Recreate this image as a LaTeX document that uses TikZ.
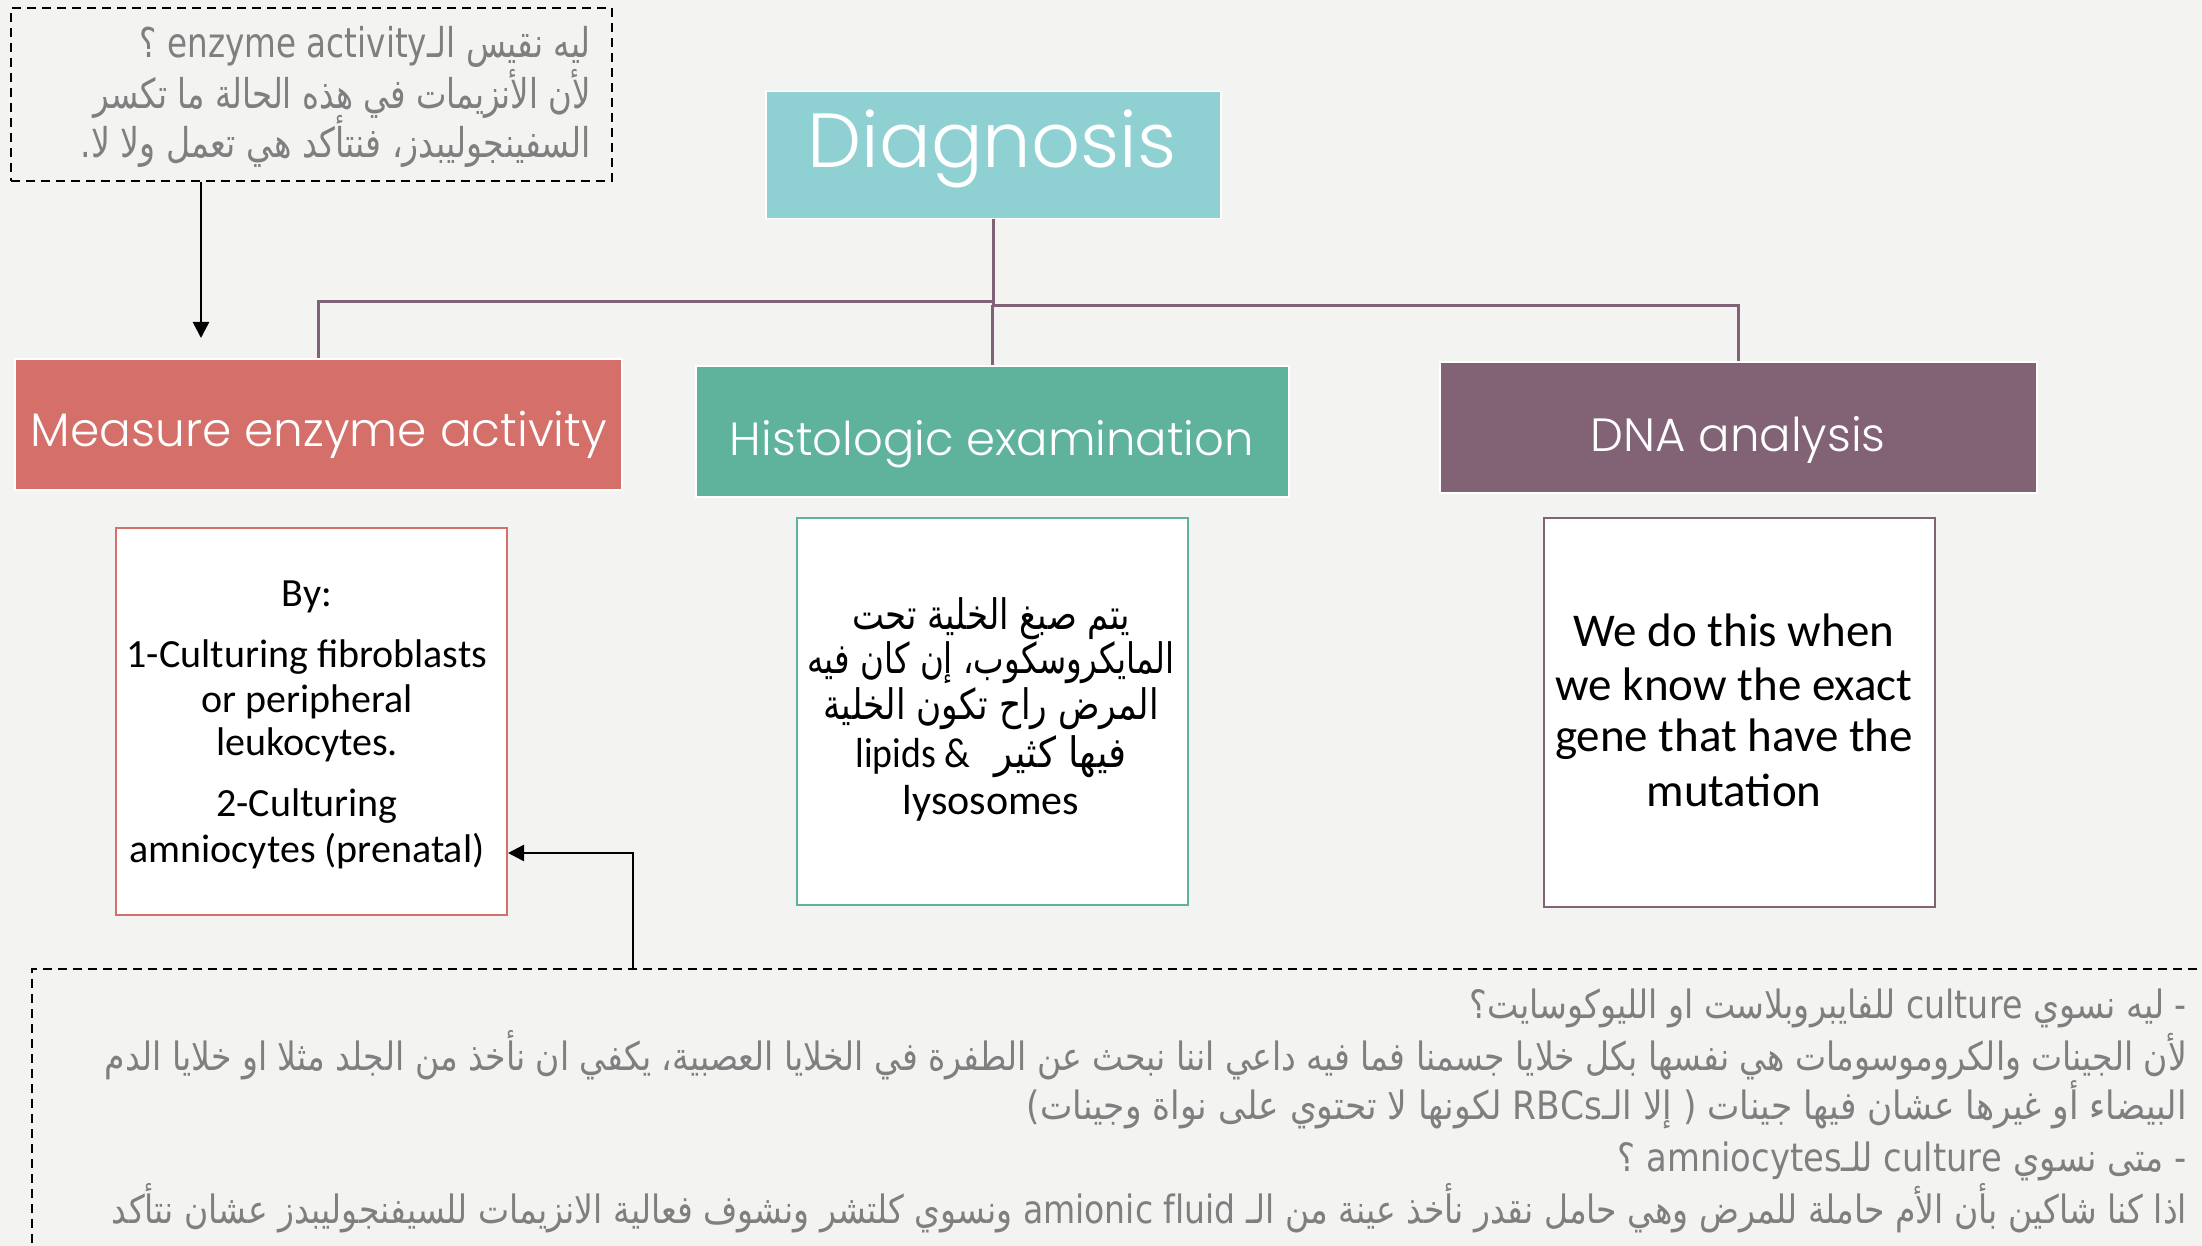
\documentclass[tikz,border=0pt]{standalone}
\usepackage{fontspec}
\usepackage{graphicx}
\usetikzlibrary{arrows.meta}
\setmainfont{Carlito}
\newfontfamily\titlefont{Poppins}[UprightFont=* Light]
\newfontfamily\arabicfont[Script=Arabic]{DejaVu Sans}
\TeXXeTstate=1
\definecolor{bgc}{HTML}{F3F3F1}
\definecolor{diagc}{HTML}{8FD0D2}
\definecolor{measc}{HTML}{D46F6A}
\definecolor{histc}{HTML}{5FB39C}
\definecolor{dnac}{HTML}{826376}
\definecolor{connc}{HTML}{7F6275}
\definecolor{txtgray}{HTML}{7F7F7F}
\newcommand{\fitw}[2]{\resizebox{#1}{\height}{#2}}
\begin{document}
\begin{tikzpicture}[x=1pt,y=-1pt,
  hbox/.style={rectangle, inner sep=0pt, draw=white, line width=1.5pt, anchor=north west},
  wbox/.style={rectangle, inner sep=0pt, fill=white, line width=2pt, anchor=north west},
  dbox/.style={rectangle, inner sep=0pt, draw=black, line width=2pt, dash pattern=on 9pt off 6pt, anchor=north west},
  htext/.style={text=white, inner sep=0pt, anchor=base},
  ltext/.style={text=black, inner sep=0pt, anchor=center},
  gtext/.style={text=txtgray, inner sep=0pt, anchor=east, font=\arabicfont\fontsize{39}{44}\selectfont},
  connline/.style={draw=connc, line width=3pt},
  arr/.style={-{Triangle[width=16pt,length=16pt]}, line width=2.5pt, draw=black}]
\useasboundingbox (0,0) rectangle (2202,1246);
\fill[bgc] (0,0) rectangle (2202,1246);

% top-left note
\node[dbox, minimum width=601pt, minimum height=173pt] (tlbox) at (10,7) {};
\node[gtext, font=\arabicfont\fontsize{41}{46}\selectfont] (tl1) at (591,47) {\fitw{451pt}{\beginR ليه نقيس الـ\beginL enzyme activity\endL{} ؟\endR}};
\node[gtext, font=\arabicfont\fontsize{41}{46}\selectfont] (tl2) at (591,94) {\fitw{497pt}{\beginR لأن الأنزيمات في هذه الحالة ما تكسر\endR}};
\node[gtext, font=\arabicfont\fontsize{41}{46}\selectfont] (tl3) at (591,141) {\fitw{510pt}{\beginR السفينجوليبدز، فنتأكد هي تعمل ولا لا.\endR}};

% main boxes
\node[hbox, fill=diagc, minimum width=455pt, minimum height=127pt] (diag) at (765,91) {};
\node[htext] (diagt) at (992,168) {\resizebox{369pt}{!}{\titlefont\fontsize{80}{96}\selectfont Diagnosis}};

\node[hbox, fill=measc, minimum width=607pt, minimum height=131pt] (meas) at (14,358) {};
\node[htext] (meast) at (319,446) {\resizebox{576pt}{!}{\titlefont\fontsize{40}{48}\selectfont Measure enzyme activity}};

\node[hbox, fill=histc, minimum width=593pt, minimum height=131pt] (hist) at (695,365) {};
\node[htext] (histt) at (992,455) {\resizebox{524pt}{!}{\titlefont\fontsize{40}{48}\selectfont Histologic examination}};

\node[hbox, fill=dnac, minimum width=597pt, minimum height=131pt] (dna) at (1439,361) {};
\node[htext] (dnat) at (1738,451) {\resizebox{295pt}{!}{\titlefont\fontsize{40}{48}\selectfont DNA analysis}};

% connectors
\draw[connline] (diag.south) -- ++(0,82) -| (meas.north);
\draw[connline] (diag.south) ++(0,82) -- ++(0,4) -| (dna.north);
\draw[connline] (diag.south) ++(-1,86) -- (hist.north);

% white boxes
\node[wbox, draw=measc, minimum width=391pt, minimum height=387pt] (redw) at (115,527) {};
\node[wbox, draw=histc, minimum width=391pt, minimum height=387pt] (greenw) at (796,517) {};
\node[wbox, draw=dnac, minimum width=391pt, minimum height=389pt] (purw) at (1543,517) {};

% red box text
\begin{scope}[every node/.append style={font=\fontsize{40}{48}\selectfont}]
\node[ltext] (r1) at (307,597) {By:};
\node[ltext] (r2) at (307,657) {1-Culturing fibroblasts};
\node[ltext] (r3) at (307,702) {or peripheral};
\node[ltext] (r4) at (307,745) {leukocytes.};
\node[ltext] (r5) at (307,806) {2-Culturing};
\node[ltext] (r6) at (307,851) {amniocytes (prenatal)};
\end{scope}

% green box text
\begin{scope}[every node/.append style={font=\arabicfont\fontsize{42}{48}\selectfont}]
\node[ltext] (g1) at (991,619) {\fitw{278pt}{\beginR يتم صبغ الخلية تحت\endR}};
\node[ltext] (g2) at (991,663) {\fitw{367pt}{\beginR المايكروسكوب، إن كان فيه\endR}};
\node[ltext] (g3) at (991,709) {\fitw{335pt}{\beginR المرض راح تكون الخلية\endR}};
\node[ltext] (g4) at (991,757) {\fitw{271pt}{\beginR فيها كثير\ \ {\rmfamily\fontsize{42}{48}\selectfont\&\ lipids}\endR}};
\node[ltext, font=\rmfamily\fontsize{42}{48}\selectfont] (g5) at (991,803) {lysosomes};
\end{scope}

% purple box text
\begin{scope}[every node/.append style={font=\fontsize{47}{54}\selectfont}]
\node[ltext] (p1) at (1734,630) {We do this when};
\node[ltext] (p2) at (1734,684) {we know the exact};
\node[ltext] (p3) at (1734,739) {gene that have the};
\node[ltext] (p4) at (1734,790) {mutation};
\end{scope}

% bottom note
\node[dbox, minimum width=2200pt, minimum height=300pt] (botbox) at (31,968) {};
\node[gtext] (b1) at (2187,1008) {\fitw{717pt}{\beginR - ليه نسوي culture للفايبروبلاست او الليوكوسايت؟\endR}};
\node[gtext] (b2) at (2187,1055) {\fitw{2082pt}{\beginR لأن الجينات والكروموسومات هي نفسها بكل خلايا جسمنا فما فيه داعي اننا نبحث عن الطفرة في الخلايا العصبية، يكفي ان نأخذ من الجلد مثلا او خلايا الدم\endR}};
\node[gtext] (b3) at (2187,1105) {\fitw{1160pt}{\beginR البيضاء أو غيرها عشان فيها جينات \beginL(\endL{} إلا الـ\beginL RBCs\endL{} لكونها لا تحتوي على نواة وجينات\beginL)\endL\endR}};
\node[gtext] (b4) at (2187,1161) {\fitw{569pt}{\beginR - متى نسوي culture للـ\beginL amniocytes\endL{} ؟\endR}};
\node[gtext] (b5) at (2187,1208) {\fitw{2075pt}{\beginR اذا كنا شاكين بأن الأم حاملة للمرض وهي حامل نقدر نأخذ عينة من الـ \beginL amionic fluid\endL{} ونسوي كلتشر ونشوف فعالية الانزيمات للسيفنجوليبدز عشان نتأكد\endR}};

% arrows
\coordinate (tend) at (201,338);
\draw[arr] (tlbox.south -| tend) -- (tend);
\coordinate (bstart) at (633,968);
\draw[arr] (bstart) |- (redw.east |- 0,853);
\end{tikzpicture}
\end{document}
